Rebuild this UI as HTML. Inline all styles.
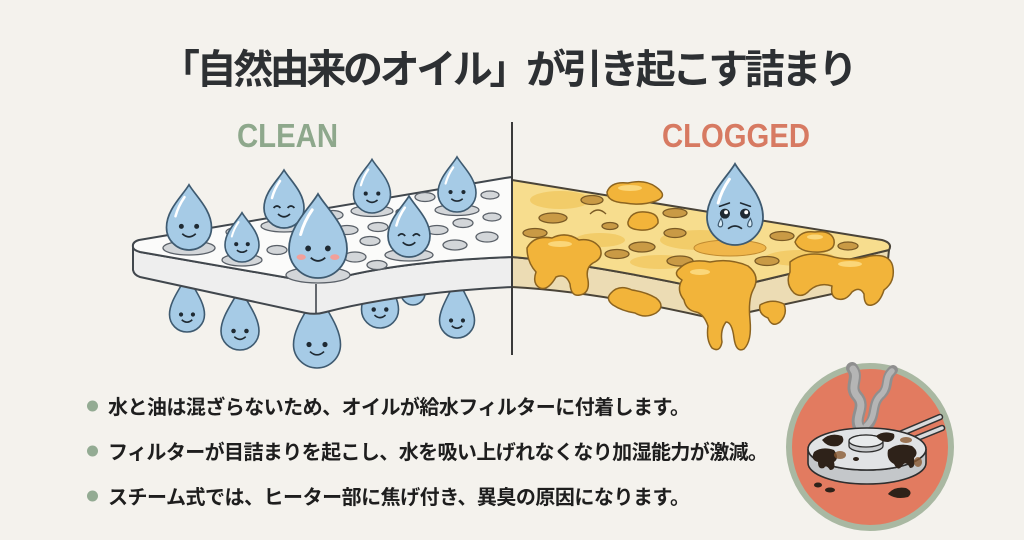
<!DOCTYPE html>
<html><head><meta charset="utf-8">
<style>
html,body{margin:0;padding:0;background:#f4f2ed;}
svg{display:block;}
.t{font-family:"Liberation Sans","Noto Sans CJK JP",sans-serif;font-weight:bold;}
.ns{vector-effect:non-scaling-stroke;}
</style></head>
<body>
<svg width="1024" height="540" viewBox="0 0 1024 540" xmlns="http://www.w3.org/2000/svg">
<rect width="1024" height="540" fill="#f4f2ed"/>

<!-- Title -->
<text class="t" x="160" y="83" font-size="40" fill="#2d3033" textLength="698" lengthAdjust="spacing">「自然由来のオイル」が引き起こす詰まり</text>
<text class="t" x="237" y="147" font-size="33" fill="#8ea88c" textLength="101" lengthAdjust="spacingAndGlyphs">CLEAN</text>
<text class="t" x="662" y="147" font-size="33" fill="#d77a62" textLength="148" lengthAdjust="spacingAndGlyphs">CLOGGED</text>

<!-- ============ LEFT: CLEAN FILTER ============ -->
<!-- hanging drops (behind slab) -->
<g stroke="#3e5a70" fill="#a6cbe6">
 <g transform="translate(187,314.5) scale(17.5)">
  <path d="M0,-2.3 C0.28,-1.6 1,-0.8 1,0 A1,1 0 0 1 -1,0 C-1,-0.8 -0.28,-1.6 0,-2.3Z" class="ns" stroke-width="1.6"/>
  <circle cx="-0.34" cy="0" r="0.12" fill="#1f2a33" stroke="none"/><circle cx="0.34" cy="0" r="0.12" fill="#1f2a33" stroke="none"/>
  <path d="M-0.3,0.3 Q0,0.58 0.3,0.3" fill="none" stroke="#1f2a33" class="ns" stroke-width="1.6"/>
 </g>
 <g transform="translate(240,331) scale(19)">
  <path d="M0,-2.3 C0.28,-1.6 1,-0.8 1,0 A1,1 0 0 1 -1,0 C-1,-0.8 -0.28,-1.6 0,-2.3Z" class="ns" stroke-width="1.6"/>
  <circle cx="-0.34" cy="0" r="0.12" fill="#1f2a33" stroke="none"/><circle cx="0.34" cy="0" r="0.12" fill="#1f2a33" stroke="none"/>
  <path d="M-0.3,0.3 Q0,0.58 0.3,0.3" fill="none" stroke="#1f2a33" class="ns" stroke-width="1.6"/>
 </g>
 <g transform="translate(317,344.5) scale(23.5)">
  <path d="M0,-2.3 C0.28,-1.6 1,-0.8 1,0 A1,1 0 0 1 -1,0 C-1,-0.8 -0.28,-1.6 0,-2.3Z" class="ns" stroke-width="1.6"/>
  <circle cx="-0.34" cy="0" r="0.11" fill="#1f2a33" stroke="none"/><circle cx="0.34" cy="0" r="0.11" fill="#1f2a33" stroke="none"/>
  <path d="M-0.3,0.3 Q0,0.58 0.3,0.3" fill="none" stroke="#1f2a33" class="ns" stroke-width="1.6"/>
 </g>
 <g transform="translate(413,293) scale(12)">
  <path d="M0,-1.9 C0.28,-1.42 1,-0.8 1,0 A1,1 0 0 1 -1,0 C-1,-0.8 -0.28,-1.42 0,-1.9Z" class="ns" stroke-width="1.6"/>
 </g>
 <g transform="translate(380,309.5) scale(18.5)">
  <path d="M0,-2.3 C0.28,-1.6 1,-0.8 1,0 A1,1 0 0 1 -1,0 C-1,-0.8 -0.28,-1.6 0,-2.3Z" class="ns" stroke-width="1.6"/>
  <circle cx="-0.34" cy="0" r="0.12" fill="#1f2a33" stroke="none"/><circle cx="0.34" cy="0" r="0.12" fill="#1f2a33" stroke="none"/>
  <path d="M-0.3,0.3 Q0,0.58 0.3,0.3" fill="none" stroke="#1f2a33" class="ns" stroke-width="1.6"/>
 </g>
 <g transform="translate(457,320.5) scale(17.5)">
  <path d="M0,-2.6 C0.2,-1.8 1,-0.8 1,0 A1,1 0 0 1 -1,0 C-1,-0.8 -0.2,-1.8 0,-2.6Z" class="ns" stroke-width="1.6"/>
  <circle cx="-0.34" cy="0" r="0.12" fill="#1f2a33" stroke="none"/><circle cx="0.34" cy="0" r="0.12" fill="#1f2a33" stroke="none"/>
  <path d="M-0.3,0.3 Q0,0.58 0.3,0.3" fill="none" stroke="#1f2a33" class="ns" stroke-width="1.6"/>
 </g>
</g>

<!-- white slab -->
<path d="M133,247 L133,270 Q134,275 140,277 L306,313 Q316,315 326,312 C380,298 450,290 512,287 L512,257 C450,259 380,266 330,280 Q318,284 306,281 L140,252 Z" fill="#eeeeee" stroke="#41474d" stroke-width="2" stroke-linejoin="round"/>
<path d="M133,247 Q132,242 139,240 L505,178 L512,177 L512,257 C450,259 380,266 330,280 Q318,284 306,281 L140,252 Q133,250 133,247 Z" fill="#fbfbfa" stroke="#41474d" stroke-width="2" stroke-linejoin="round"/>
<line x1="316" y1="284" x2="316" y2="313" stroke="#41474d" stroke-width="1.6"/>

<!-- holes -->
<g fill="#d3d6d9" stroke="#5a6068" stroke-width="1.3">
 <ellipse cx="237" cy="232" rx="11" ry="4.5"/>
 <ellipse cx="277" cy="250" rx="10" ry="4.5"/>
 <ellipse cx="333" cy="215" rx="10" ry="4.5"/>
 <ellipse cx="347" cy="230" rx="11" ry="4.5"/>
 <ellipse cx="355" cy="257" rx="11" ry="5"/>
 <ellipse cx="370" cy="241" rx="10" ry="4.5"/>
 <ellipse cx="378" cy="227" rx="10" ry="4.5"/>
 <ellipse cx="377" cy="265" rx="10" ry="4.5"/>
 <ellipse cx="425" cy="197" rx="10" ry="4.5"/>
 <ellipse cx="437" cy="230" rx="11" ry="4.5"/>
 <ellipse cx="455" cy="245" rx="12" ry="5"/>
 <ellipse cx="463" cy="223" rx="10" ry="4.5"/>
 <ellipse cx="490" cy="195" rx="9" ry="4"/>
 <ellipse cx="492" cy="217" rx="9" ry="4"/>
 <ellipse cx="487" cy="237" rx="11" ry="5"/>
 <ellipse cx="404" cy="212" rx="8" ry="3.5"/>
 <!-- holes under top drops -->
 <ellipse cx="189" cy="248" rx="26" ry="7"/>
 <ellipse cx="242" cy="260" rx="20" ry="6"/>
 <ellipse cx="284" cy="226" rx="23" ry="6"/>
 <ellipse cx="318" cy="275" rx="32" ry="8"/>
 <ellipse cx="372" cy="211" rx="21" ry="5.5"/>
 <ellipse cx="409" cy="255" rx="24" ry="6"/>
 <ellipse cx="457" cy="210" rx="22" ry="5.5"/>
</g>

<!-- top drops -->
<g stroke="#3e5a70" fill="#a6cbe6">
 <!-- 1 -->
 <g transform="translate(189,227.5) scale(22.5)">
  <path d="M0,-1.9 C0.28,-1.42 1,-0.8 1,0 A1,1 0 0 1 -1,0 C-1,-0.8 -0.28,-1.42 0,-1.9Z" class="ns" stroke-width="1.7"/>
  <path d="M-0.6,-0.5 Q-0.48,-0.95 -0.2,-1.35" fill="none" stroke="#ffffff" class="ns" stroke-width="2.5" stroke-linecap="round"/>
  <circle cx="-0.34" cy="-0.05" r="0.11" fill="#1f2a33" stroke="none"/><circle cx="0.34" cy="-0.05" r="0.11" fill="#1f2a33" stroke="none"/>
  <path d="M-0.3,0.28 Q0,0.55 0.3,0.28" fill="none" stroke="#1f2a33" class="ns" stroke-width="1.7"/>
 </g>
 <!-- 2 -->
 <g transform="translate(242,245) scale(17)">
  <path d="M0,-1.9 C0.28,-1.42 1,-0.8 1,0 A1,1 0 0 1 -1,0 C-1,-0.8 -0.28,-1.42 0,-1.9Z" class="ns" stroke-width="1.6"/>
  <path d="M-0.6,-0.5 Q-0.48,-0.95 -0.2,-1.35" fill="none" stroke="#ffffff" class="ns" stroke-width="2" stroke-linecap="round"/>
  <circle cx="-0.34" cy="-0.05" r="0.12" fill="#1f2a33" stroke="none"/><circle cx="0.34" cy="-0.05" r="0.12" fill="#1f2a33" stroke="none"/>
  <path d="M-0.3,0.3 Q0,0.55 0.3,0.3" fill="none" stroke="#1f2a33" class="ns" stroke-width="1.6"/>
 </g>
 <!-- 3 happy -->
 <g transform="translate(284,208) scale(20)">
  <path d="M0,-1.9 C0.28,-1.42 1,-0.8 1,0 A1,1 0 0 1 -1,0 C-1,-0.8 -0.28,-1.42 0,-1.9Z" class="ns" stroke-width="1.7"/>
  <path d="M-0.6,-0.5 Q-0.48,-0.95 -0.2,-1.35" fill="none" stroke="#ffffff" class="ns" stroke-width="2.5" stroke-linecap="round"/>
  <path d="M-0.52,0 Q-0.35,-0.2 -0.18,0 M0.18,0 Q0.35,-0.2 0.52,0" fill="none" stroke="#1f2a33" class="ns" stroke-width="1.7"/>
  <path d="M-0.3,0.3 Q0,0.58 0.3,0.3" fill="none" stroke="#1f2a33" class="ns" stroke-width="1.7"/>
 </g>
 <!-- 4 big -->
 <g transform="translate(318,249) scale(29)">
  <path d="M0,-1.9 C0.28,-1.42 1,-0.8 1,0 A1,1 0 0 1 -1,0 C-1,-0.8 -0.28,-1.42 0,-1.9Z" class="ns" stroke-width="1.8"/>
  <path d="M-0.6,-0.5 Q-0.48,-0.95 -0.2,-1.35" fill="none" stroke="#ffffff" class="ns" stroke-width="3" stroke-linecap="round"/>
  <ellipse cx="-0.58" cy="0.28" rx="0.16" ry="0.1" fill="#f2a09a" stroke="none"/>
  <ellipse cx="0.58" cy="0.28" rx="0.16" ry="0.1" fill="#f2a09a" stroke="none"/>
  <circle cx="-0.34" cy="-0.02" r="0.1" fill="#1f2a33" stroke="none"/><circle cx="0.34" cy="-0.02" r="0.1" fill="#1f2a33" stroke="none"/>
  <path d="M-0.25,0.3 Q0,0.52 0.25,0.3" fill="none" stroke="#1f2a33" class="ns" stroke-width="1.8"/>
 </g>
 <!-- 5 -->
 <g transform="translate(372,194.5) scale(18.5)">
  <path d="M0,-1.9 C0.28,-1.42 1,-0.8 1,0 A1,1 0 0 1 -1,0 C-1,-0.8 -0.28,-1.42 0,-1.9Z" class="ns" stroke-width="1.6"/>
  <path d="M-0.6,-0.5 Q-0.48,-0.95 -0.2,-1.35" fill="none" stroke="#ffffff" class="ns" stroke-width="2.2" stroke-linecap="round"/>
  <circle cx="-0.34" cy="-0.05" r="0.11" fill="#1f2a33" stroke="none"/><circle cx="0.34" cy="-0.05" r="0.11" fill="#1f2a33" stroke="none"/>
  <path d="M-0.3,0.3 Q0,0.55 0.3,0.3" fill="none" stroke="#1f2a33" class="ns" stroke-width="1.6"/>
 </g>
 <!-- 6 happy -->
 <g transform="translate(409,236) scale(21)">
  <path d="M0,-1.9 C0.28,-1.42 1,-0.8 1,0 A1,1 0 0 1 -1,0 C-1,-0.8 -0.28,-1.42 0,-1.9Z" class="ns" stroke-width="1.7"/>
  <path d="M-0.6,-0.5 Q-0.48,-0.95 -0.2,-1.35" fill="none" stroke="#ffffff" class="ns" stroke-width="2.5" stroke-linecap="round"/>
  <path d="M-0.52,0 Q-0.35,-0.2 -0.18,0 M0.18,0 Q0.35,-0.2 0.52,0" fill="none" stroke="#1f2a33" class="ns" stroke-width="1.7"/>
  <path d="M-0.3,0.3 Q0,0.58 0.3,0.3" fill="none" stroke="#1f2a33" class="ns" stroke-width="1.7"/>
 </g>
 <!-- 7 -->
 <g transform="translate(457,193) scale(19)">
  <path d="M0,-1.9 C0.28,-1.42 1,-0.8 1,0 A1,1 0 0 1 -1,0 C-1,-0.8 -0.28,-1.42 0,-1.9Z" class="ns" stroke-width="1.6"/>
  <path d="M-0.6,-0.5 Q-0.48,-0.95 -0.2,-1.35" fill="none" stroke="#ffffff" class="ns" stroke-width="2.2" stroke-linecap="round"/>
  <circle cx="-0.34" cy="-0.05" r="0.11" fill="#1f2a33" stroke="none"/><circle cx="0.34" cy="-0.05" r="0.11" fill="#1f2a33" stroke="none"/>
  <path d="M-0.3,0.3 Q0,0.55 0.3,0.3" fill="none" stroke="#1f2a33" class="ns" stroke-width="1.6"/>
 </g>
</g>

<!-- ============ RIGHT: CLOGGED FILTER ============ -->
<path d="M512,257 C570,262 640,275 706,289 Q714,292 722,290 L889,250 L886,278 Q884,282 878,284 L722,318 Q714,320 706,317 C640,302 570,290 512,287 Z" fill="#ecdcb4" stroke="#4a4438" stroke-width="2" stroke-linejoin="round"/>
<path d="M512,180 L882,240 Q893,243 889,250 L722,290 Q714,292 706,289 C640,275 570,262 512,257 Z" fill="#f7dd8e" stroke="#4a4438" stroke-width="2" stroke-linejoin="round"/>
<line x1="716" y1="292" x2="716" y2="318" stroke="#4a4438" stroke-width="1.5"/>
<!-- mottled patches -->
<g fill="#f1c55a" opacity="0.7">
 <ellipse cx="560" cy="200" rx="30" ry="9"/>
 <ellipse cx="700" cy="240" rx="40" ry="10"/>
 <ellipse cx="800" cy="258" rx="35" ry="8"/>
 <ellipse cx="600" cy="240" rx="25" ry="7"/>
 <ellipse cx="660" cy="262" rx="30" ry="7"/>
</g>
<!-- brown holes -->
<g fill="#c99a45" stroke="#7a5a25" stroke-width="1.3">
 <ellipse cx="553" cy="218" rx="14" ry="5"/>
 <ellipse cx="535" cy="233" rx="12" ry="4.5"/>
 <ellipse cx="592" cy="200" rx="11" ry="4.5"/>
 <ellipse cx="610" cy="226" rx="8" ry="3.5"/>
 <ellipse cx="675" cy="213" rx="12" ry="4.5"/>
 <ellipse cx="675" cy="233" rx="11" ry="4.5"/>
 <ellipse cx="642" cy="247" rx="13" ry="5"/>
 <ellipse cx="617" cy="254" rx="12" ry="4.5"/>
 <ellipse cx="680" cy="261" rx="13" ry="5"/>
 <ellipse cx="767" cy="261" rx="12" ry="4.5"/>
 <ellipse cx="782" cy="236" rx="12" ry="4.5"/>
 <ellipse cx="848" cy="246" rx="10" ry="4"/>
</g>
<path d="M590,214 Q598,206 606,214" fill="none" stroke="#7a5a25" stroke-width="1.3"/>
<!-- oil blobs -->
<g fill="#f2b43a" stroke="#8c6420" stroke-width="1.5" stroke-linejoin="round">
 <path d="M607,192 Q611,181 628,183 Q645,179 656,187 Q669,196 656,201 Q641,206 625,203 Q607,202 607,192Z"/>
 <path d="M628,222 Q631,211 645,212 Q659,213 658,223 Q653,231 640,230 Q627,229 628,222Z"/>
 <path d="M527,248 Q534,235 552,238 Q566,231 579,240 Q593,238 600,248 Q604,258 593,263 Q585,268 588,280 Q590,293 580,295 Q571,297 570,284 Q566,273 556,277 Q548,291 540,288 Q532,284 536,272 Q527,262 527,248Z"/>
 <path d="M611,293 Q619,284 632,290 Q646,292 656,298 Q666,306 656,313 Q645,319 635,313 Q622,311 613,305 Q605,299 611,293Z"/>
 <path d="M680,268 Q690,258 710,262 Q730,258 748,266 Q761,276 753,290 Q748,300 750,320 Q752,341 744,349 Q736,353 734,338 Q732,322 726,322 Q720,330 722,342 Q720,353 712,348 Q706,340 708,326 Q704,314 696,312 Q686,310 684,300 Q676,290 682,280 Q672,274 680,268Z"/>
 <path d="M790,262 Q805,250 830,256 Q850,262 870,256 Q891,253 893,268 Q895,282 884,290 Q880,303 872,305 Q864,307 864,294 Q860,286 852,292 Q846,301 838,299 Q830,297 832,286 Q820,282 810,290 Q802,299 794,293 Q785,284 790,272Z"/>
 <path d="M795,242 Q800,230 815,232 Q831,230 834,240 Q836,251 820,252 Q799,253 795,242Z"/>
 <path d="M760,305 Q772,298 784,304 Q788,314 780,322 Q772,328 768,318 Q758,314 760,305Z"/>
</g>
<g fill="#fbd77a" stroke="none">
 <ellipse cx="630" cy="188" rx="12" ry="3"/>
 <ellipse cx="560" cy="244" rx="12" ry="3"/>
 <ellipse cx="815" cy="237" rx="8" ry="2.5"/>
 <ellipse cx="850" cy="264" rx="12" ry="3"/>
 <ellipse cx="700" cy="272" rx="10" ry="3"/>
</g>
<ellipse cx="730" cy="248" rx="36" ry="8" fill="#f0b64a" stroke="#c08a30" stroke-width="1"/>
<!-- sad drop -->
<g stroke="#3e5a70" fill="#a6cbe6">
 <g transform="translate(735,217) scale(28)">
  <path d="M0,-1.9 C0.28,-1.42 1,-0.8 1,0 A1,1 0 0 1 -1,0 C-1,-0.8 -0.28,-1.42 0,-1.9Z" class="ns" stroke-width="1.8"/>
  <path d="M-0.6,-0.5 Q-0.48,-0.95 -0.2,-1.35" fill="none" stroke="#ffffff" class="ns" stroke-width="3" stroke-linecap="round"/>
  <path d="M-0.55,-0.38 L-0.2,-0.5 M0.2,-0.5 L0.55,-0.38" fill="none" stroke="#1f2a33" class="ns" stroke-width="1.6" stroke-linecap="round"/>
  <circle cx="-0.36" cy="-0.12" r="0.18" fill="#1f2a33" stroke="none"/><circle cx="0.36" cy="-0.12" r="0.18" fill="#1f2a33" stroke="none"/>
  <circle cx="-0.32" cy="-0.17" r="0.07" fill="#fff" stroke="none"/><circle cx="0.4" cy="-0.17" r="0.07" fill="#fff" stroke="none"/>
  <path d="M-0.25,0.42 Q0,0.22 0.25,0.42" fill="none" stroke="#1f2a33" class="ns" stroke-width="1.7"/>
  <path d="M-0.5,0.05 Q-0.42,0.2 -0.45,0.3 A0.08,0.08 0 0 1 -0.6,0.3 Q-0.6,0.2 -0.5,0.05Z" fill="#d8ecf8" class="ns" stroke-width="1.2"/>
  <path d="M0.55,0.05 Q0.63,0.2 0.6,0.3 A0.08,0.08 0 0 1 0.45,0.3 Q0.45,0.2 0.55,0.05Z" fill="#d8ecf8" class="ns" stroke-width="1.2"/>
 </g>
</g>

<!-- divider -->
<line x1="512" y1="122" x2="512" y2="355" stroke="#3a3a3a" stroke-width="2"/>

<!-- ============ Heater circle ============ -->
<circle cx="870" cy="447" r="81" fill="#e27b60" stroke="#a9b8a2" stroke-width="6"/>
<!-- smoke -->
<g fill="none" stroke-linecap="round">
 <path d="M862,432 C850,418 868,408 857,396 C848,386 860,378 852,368" stroke="#8f8f8f" stroke-width="12"/>
 <path d="M866,428 C878,416 870,404 882,394 C890,386 884,378 893,370" stroke="#8f8f8f" stroke-width="10"/>
 <path d="M862,430 C851,418 868,408 857,396 C849,386 860,378 853,369" stroke="#b5b5b5" stroke-width="7"/>
 <path d="M866,426 C878,416 870,404 882,394 C889,386 884,378 892,371" stroke="#b5b5b5" stroke-width="5.5"/>
</g>
<!-- handles -->
<g stroke-linecap="round">
 <path d="M895,436 L940,417" stroke="#333" stroke-width="6.5"/>
 <path d="M895,436 L940,417" stroke="#d8dadc" stroke-width="3.5"/>
 <path d="M900,445 L942,428" stroke="#333" stroke-width="6.5"/>
 <path d="M900,445 L942,428" stroke="#d8dadc" stroke-width="3.5"/>
</g>
<!-- disc -->
<path d="M808,449 L808,463 A59,21 0 0 0 926,463 L926,449 A59,21 0 0 1 808,449Z" fill="#c4c7ca" stroke="#2e2e2e" stroke-width="1.6"/>
<ellipse cx="867" cy="449" rx="59" ry="21" fill="#e1e3e5" stroke="#2e2e2e" stroke-width="1.6"/>
<path d="M849,446 L849,441 A17,6 0 0 1 883,441 L883,446 A17,6 0 0 1 849,446Z" fill="#c9cbcd" stroke="#2e2e2e" stroke-width="1.3"/>
<ellipse cx="866" cy="441" rx="17" ry="6" fill="#e8eaeb" stroke="#2e2e2e" stroke-width="1.3"/>
<!-- burnt spots -->
<g fill="#2e2219">
 <path d="M822,440 Q830,432 842,436 Q846,442 838,446 Q828,448 822,440Z"/>
 <path d="M814,452 Q822,446 834,450 Q840,458 834,462 Q836,470 830,470 Q826,464 824,468 Q818,470 818,462 Q810,460 814,452Z"/>
 <path d="M876,436 Q884,430 894,434 Q896,440 888,442 Q880,442 876,436Z"/>
 <path d="M888,450 Q898,442 912,446 Q920,452 914,458 Q916,468 910,468 Q906,460 902,466 Q898,472 894,464 Q886,460 888,450Z"/>
 <ellipse cx="818" cy="485" rx="4" ry="2.5"/>
 <ellipse cx="830" cy="490" rx="5" ry="2.5"/>
 <path d="M888,494 Q894,486 906,488 Q914,492 908,497 Q896,500 888,494Z"/>
 <ellipse cx="856" cy="459" rx="3" ry="2"/>
</g>
<g fill="#8a5a32" opacity="0.8">
 <ellipse cx="840" cy="455" rx="6" ry="4"/>
 <ellipse cx="906" cy="440" rx="6" ry="3"/>
 <ellipse cx="918" cy="462" rx="4" ry="5"/>
</g>

<!-- ============ Bullets ============ -->
<g fill="#93ab93">
 <circle cx="92.5" cy="406" r="5.5"/>
 <circle cx="92.5" cy="451" r="5.5"/>
 <circle cx="92.5" cy="496" r="5.5"/>
</g>
<g class="t" fill="#1e1e1e" font-size="20">
 <text x="108" y="414" textLength="582" lengthAdjust="spacing">水と油は混ざらないため、オイルが給水フィルターに付着します。</text>
 <text x="108" y="459" textLength="660" lengthAdjust="spacing">フィルターが目詰まりを起こし、水を吸い上げれなくなり加湿能力が激減。</text>
 <text x="108" y="504" textLength="582" lengthAdjust="spacing">スチーム式では、ヒーター部に焦げ付き、異臭の原因になります。</text>
</g>
</svg>
</body></html>
